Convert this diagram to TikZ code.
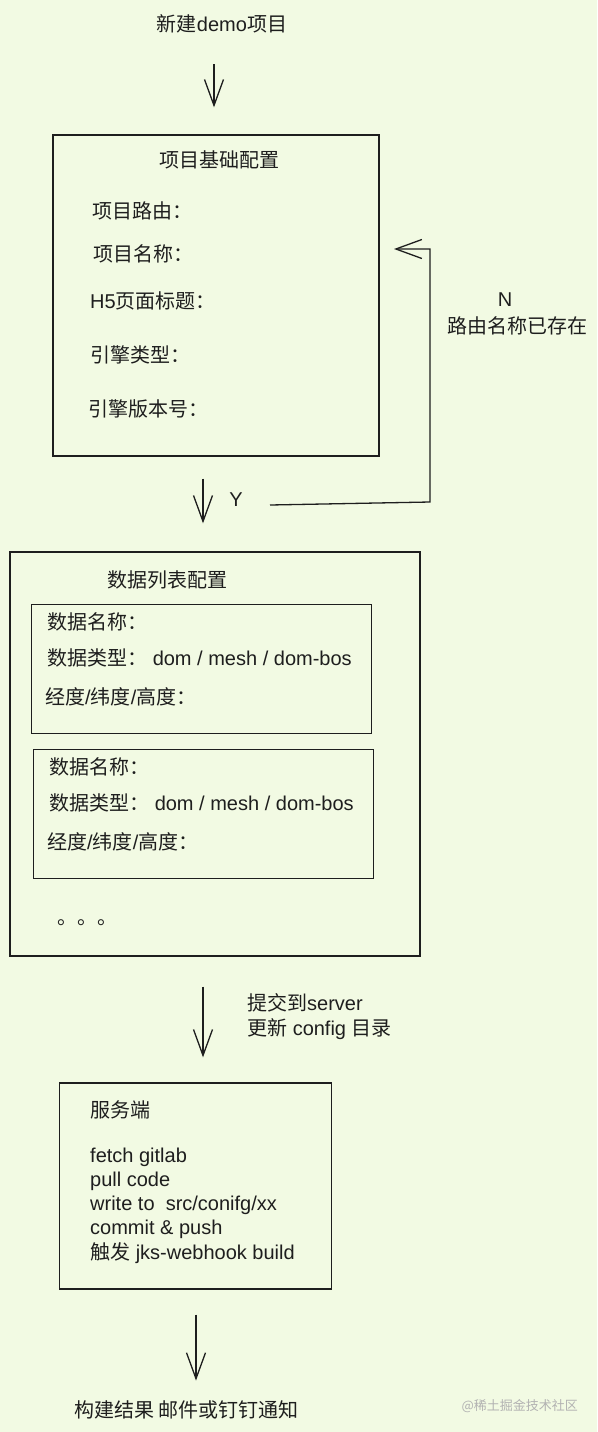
\documentclass[tikz,border=0pt]{standalone}
\usepackage{fontspec}
\setmainfont{Liberation Sans}
\newfontfamily\cjk{Noto Sans CJK SC}
\usetikzlibrary{arrows.meta}
\definecolor{paper}{HTML}{F2FAE3}
\definecolor{ink}{HTML}{1E1E1E}
\newcommand\zh[1]{{\cjk #1}}
\tikzset{
  >={Straight Barb[length=26pt,width=19pt]},
  txt/.style={font=\fontsize{20}{24}\selectfont,text=ink,inner sep=0pt},
  lbl/.style={txt,anchor=west},
  frame/.style={draw=ink,line width=1.3pt,inner sep=0pt},
  flow/.style={->,draw=ink,line width=1.3pt},
}
\begin{document}
\begin{tikzpicture}[x=1pt,y=-1pt]
  \fill[paper] (0,0) rectangle (597,1432);
  % arrow columns
  \coordinate (a1) at (214,0);
  \coordinate (a2) at (203,0);
  \coordinate (a3) at (203,0);
  \coordinate (a4) at (196,0);
  % start
  \node[txt] (start) at (222,24) {\zh{新建}demo\zh{项目}};
  % basic config
  \node[frame,minimum width=326pt,minimum height=321pt] (cfg) at (216,295.5) {};
  \node[txt] (cfgtitle) at (219,160) {\zh{项目基础配置}};
  \foreach \x/\y/\t [count=\i] in {92/211/\zh{项目路由：},93/254/\zh{项目名称：},
      90/301/H5\zh{页面标题：},90/355/\zh{引擎类型：},88/409/\zh{引擎版本号：}}
    \node[lbl] (field\i) at (\x,\y) {\t};
  \node[txt] (yes) at (236,500) {Y};
  \node[txt] (no) at (505,300) {N};
  \node[txt] (exists) at (517,326) {\zh{路由名称已存在}};
  \coordinate (loop) at (270,505);
  \coordinate (back) at (394,249);
  % data list
  \node[frame,minimum width=410pt,minimum height=404pt] (data) at (215,754) {};
  \node[txt] (datatitle) at (167,580) {\zh{数据列表配置}};
  \foreach \bx/\by [count=\i] in {31/604,33/749} {
    \node[frame,anchor=north west,minimum width=340pt,minimum height=129pt] (item\i) at (\bx,\by) {};
    \node[lbl] (name\i) at (\bx+16,\by+18) {\zh{数据名称：}};
    \node[lbl] (type\i) at (\bx+16,\by+54) {\zh{数据类型：} dom / mesh / dom-bos};
    \node[lbl] (pos\i) at (\bx+14,\by+93) {\zh{经度}/\zh{纬度}/\zh{高度：}};
  }
  \node[lbl] (more) at (57,923) {\zh{。。。}};
  \node[lbl] (submit) at (247,1003) {\zh{提交到}server};
  \node[lbl] (update) at (247,1029) {\zh{更新} config \zh{目录}};
  % server
  \node[frame,minimum width=272pt,minimum height=206pt] (srv) at (195.5,1186) {};
  \node[lbl] (srvtitle) at (90,1110) {\zh{服务端}};
  \foreach \t [count=\i] in {fetch gitlab,pull code,write to\ \ src/conifg/xx,
      commit \& push,\zh{触发} jks-webhook build}
    \node[lbl] (job\i) at (90,1133+24*\i) {\t};
  \node[lbl] (result) at (74,1410) {\zh{构建结果 邮件或钉钉通知}};
  \node[txt,anchor=east,font=\cjk\fontsize{13}{15}\selectfont,text=black!30] (mark) at (578,1406) {@稀土掘金技术社区};
  % connectors
  \draw[flow,shorten <=31pt,shorten >=27pt] (start.south -| a1) -- (cfg.north -| a1);
  \draw[flow,shorten <=22pt,shorten >=28pt] (cfg.south -| a2) -- (data.north -| a2);
  \draw[flow] (loop) -- (430,502) -- (430,249) -- (back);
  \draw[flow,shorten <=30pt,shorten >=25pt] (data.south -| a3) -- (srv.north -| a3);
  \draw[flow,shorten <=25pt,shorten >=20pt] (srv.south -| a4) -- (result.north -| a4);
\end{tikzpicture}
\end{document}
